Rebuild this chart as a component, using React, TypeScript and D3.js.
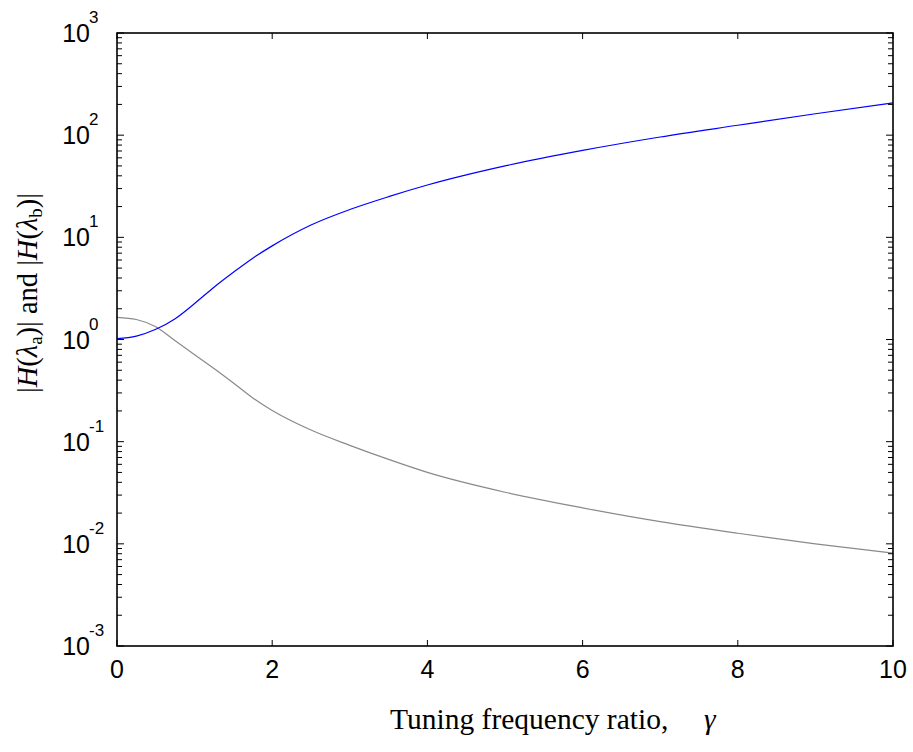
import React from "react";
import * as d3 from "d3";

// Tuning frequency ratio samples
const gamma = [0, 0.25, 0.5, 0.75, 1.0, 1.25, 1.5, 1.75, 2.0, 2.5, 3.0, 3.5, 4.0, 5.0, 6.0, 7.0, 8.0, 9.0, 10.0];
// |H(λa)| (blue)
const magA = [1.02, 1.08, 1.26, 1.6, 2.25, 3.25, 4.55, 6.25, 8.25, 13.2, 18.7, 25, 32.5, 50, 71, 96, 125, 162, 207];
// |H(λb)| (gray)
const magB = [1.65, 1.57, 1.33, 0.97, 0.71, 0.52, 0.375, 0.268, 0.202, 0.13, 0.092, 0.067, 0.05, 0.032, 0.0225, 0.0165, 0.0127, 0.01, 0.0081];

const xTicks = [0, 2, 4, 6, 8, 10];
const yExponents = [-3, -2, -1, 0, 1, 2, 3];

const W = 913;
const H = 752;
const M = { left: 117, top: 33, right: 893, bottom: 646 };

const numFont = "'Liberation Sans', Arial, sans-serif";
const serif = "'Liberation Serif', 'Times New Roman', serif";

export default function App() {
  const x = d3.scaleLinear().domain([0, 10]).range([M.left, M.right]);
  const y = d3.scaleLog().domain([1e-3, 1e3]).range([M.bottom, M.top]);

  const line = (vals: number[]) =>
    d3
      .line<number>()
      .x((_, i) => x(gamma[i]))
      .y((v) => y(v))
      .curve(d3.curveMonotoneX)(vals) || "";

  const tickLen = 6;
  const minor: number[] = [];
  for (let e = -3; e < 3; e++) {
    for (let m = 2; m <= 9; m++) minor.push(m * Math.pow(10, e));
  }

  return (
    <svg
      width={W}
      height={H}
      style={{ position: "absolute", left: 0, top: 0, background: "#fff" }}
    >
      <rect x={0} y={0} width={W} height={H} fill="#fff" />
      {/* curves */}
      <path d={line(magB)} fill="none" stroke="#8a8a8a" strokeWidth={1.2} />
      <path d={line(magA)} fill="none" stroke="#0000ff" strokeWidth={1.2} />

      {/* minor y ticks */}
      {minor.map((v, i) => (
        <g key={"mn" + i} stroke="#000" strokeWidth={1}>
          <line x1={M.left} x2={M.left + tickLen - 1} y1={y(v)} y2={y(v)} />
          <line x1={M.right} x2={M.right - tickLen + 1} y1={y(v)} y2={y(v)} />
        </g>
      ))}
      {/* major y ticks */}
      {yExponents.map((e) => (
        <g key={"mj" + e} stroke="#000" strokeWidth={1}>
          <line x1={M.left} x2={M.left + tickLen + 1} y1={y(Math.pow(10, e))} y2={y(Math.pow(10, e))} />
          <line x1={M.right} x2={M.right - tickLen - 1} y1={y(Math.pow(10, e))} y2={y(Math.pow(10, e))} />
        </g>
      ))}
      {/* x ticks */}
      {xTicks.map((t) => (
        <g key={"xt" + t} stroke="#000" strokeWidth={1}>
          <line x1={x(t)} x2={x(t)} y1={M.bottom} y2={M.bottom - tickLen} />
          <line x1={x(t)} x2={x(t)} y1={M.top} y2={M.top + tickLen} />
        </g>
      ))}

      {/* frame */}
      <rect
        x={M.left}
        y={M.top}
        width={M.right - M.left}
        height={M.bottom - M.top}
        fill="none"
        stroke="#000"
        strokeWidth={1.6}
      />

      {/* x tick labels */}
      {xTicks.map((t) => (
        <text
          key={"xl" + t}
          x={x(t)}
          y={678}
          textAnchor="middle"
          fontFamily={numFont}
          fontSize={25}
          fill="#000"
        >
          {t}
        </text>
      ))}

      {/* y tick labels */}
      {yExponents.map((e) => {
        const yy = y(Math.pow(10, e));
        return (
          <g key={"yl" + e} fontFamily={numFont} fill="#000">
            <text x={90} y={yy + 9} textAnchor="end" fontSize={25}>
              10
            </text>
            <text x={89} y={yy - 10} textAnchor="start" fontSize={17}>
              {e}
            </text>
          </g>
        );
      })}

      {/* x axis title */}
      <text x={390} y={729} fontFamily={serif} fontSize={29.5} fill="#000">
        Tuning frequency ratio,
      </text>
      <text x={704} y={729} fontFamily={serif} fontSize={29.5} fontStyle="italic" fill="#000">
        γ
      </text>

      {/* y axis title */}
      <text
        transform="translate(37, 293) rotate(-90)"
        textAnchor="middle"
        fontFamily={serif}
        fontSize={28.5}
        fill="#000"
      >
        |<tspan fontStyle="italic">H</tspan>(<tspan fontStyle="italic">λ</tspan>
        <tspan fontSize={19} dy={5}>a</tspan>
        <tspan dy={-5}>)| and |</tspan>
        <tspan fontStyle="italic">H</tspan>(<tspan fontStyle="italic">λ</tspan>
        <tspan fontSize={19} dy={5}>b</tspan>
        <tspan dy={-5}>)|</tspan>
      </text>
    </svg>
  );
}
